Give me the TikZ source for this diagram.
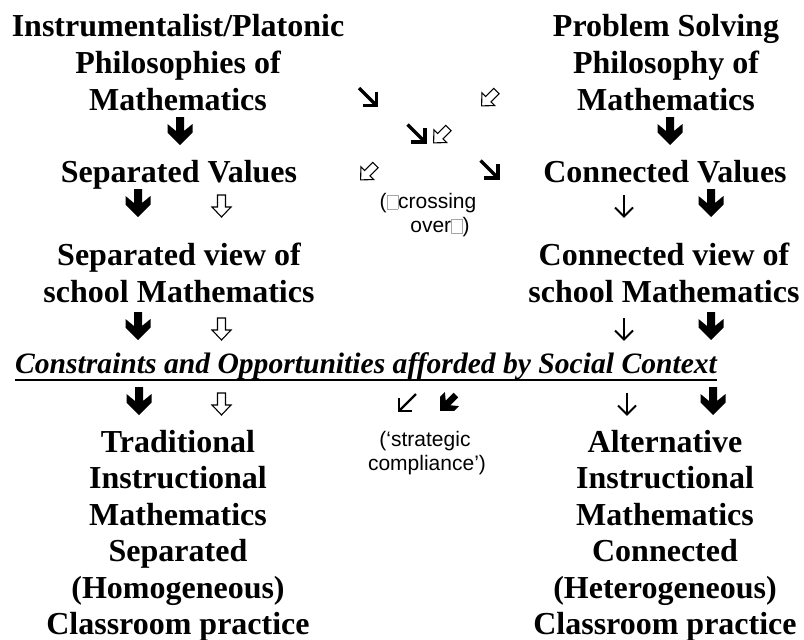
\documentclass[tikz,border=0pt]{standalone}
\usepackage{fontspec}
\setmainfont{Liberation Serif}
\newfontfamily\arialf{Liberation Sans}
\newcommand\missbox{\textcolor{gray!70}{\fboxsep=0pt\fboxrule=0.45pt\fbox{\rule{0pt}{0.62em}\hspace{0.5em}}}}
\tikzset{
  big/.style={font=\fontsize{32}{37}\selectfont\bfseries, inner sep=0pt, anchor=base},
  small/.style={font=\arialf\fontsize{21}{24}\selectfont, inner sep=0pt, anchor=base},
  soliddown/.pic={\fill (-4,14) -- (4,14) -- (4,0) -- (12.5,7) -- (12.5,-1.5) -- (0,-14) -- (-12.5,-1.5) -- (-12.5,7) -- (-4,0) -- cycle;},
  hollowdown/.pic={\draw[line width=1.1pt, fill=white, line join=miter] (-4,11) -- (4,11) -- (4,-1) -- (9.5,-1) -- (0,-11) -- (-9.5,-1) -- (-4,-1) -- cycle;},
  thindown/.pic={\draw[line width=1.8pt] (0,11) -- (0,-10);
                 \draw[line width=1.8pt, line join=miter] (-9,-1.5) -- (0,-10.5) -- (9,-1.5);},
  diagsolid/.pic={\draw[line width=3.4pt] (-9.5,9.5) -- (7,-7);
                  \draw[line width=3.4pt, line join=miter] (8,6) -- (8,-8) -- (-6,-8);},
  thindiag/.pic={\draw[line width=2.4pt] (9,9) -- (-7,-7);
                 \draw[line width=2.4pt, line join=miter] (-8,5) -- (-8,-8) -- (5,-8);},
}
\begin{document}
\begin{tikzpicture}[x=1pt,y=1pt]
\useasboundingbox (0,0) rectangle (804,-640);
% top blocks
\node[big] (tl1) at (178,-36) {Instrumentalist/Platonic};
\node[big] (tl2) at (178,-73) {Philosophies of};
\node[big] (tl3) at (178,-110) {Mathematics};
\node[big] (tr1) at (666,-36) {Problem Solving};
\node[big] (tr2) at (666,-73) {Philosophy of};
\node[big] (tr3) at (666,-110) {Mathematics};
% values
\node[big] (vl) at (179,-182) {Separated Values};
\node[big] (vr) at (665,-182) {Connected Values};
% views
\node[big] (wl1) at (179,-265) {Separated view of};
\node[big] (wl2) at (179,-302) {school Mathematics};
\node[big] (wr1) at (664,-265) {Connected view of};
\node[big] (wr2) at (664,-302) {school Mathematics};
% constraints
\node[big, anchor=base west, font=\fontsize{29.6}{37}\selectfont\bfseries\itshape] (con) at (15,-373) {Constraints and Opportunities afforded by Social Context};
\draw[line width=2.4pt] ([yshift=-7pt]con.base west) -- ([yshift=-7pt]con.base east);
% bottom blocks
\node[big] (bl1) at (178,-452) {Traditional};
\node[big] (bl2) at (178,-488.5) {Instructional};
\node[big] (bl3) at (178,-525) {Mathematics};
\node[big] (bl4) at (178,-561.5) {Separated};
\node[big] (bl5) at (178,-598) {(Homogeneous)};
\node[big] (bl6) at (178,-634.5) {Classroom practice};
\node[big] (br1) at (665,-452) {Alternative};
\node[big] (br2) at (665,-488.5) {Instructional};
\node[big] (br3) at (665,-525) {Mathematics};
\node[big] (br4) at (665,-561.5) {Connected};
\node[big] (br5) at (665,-598) {(Heterogeneous)};
\node[big] (br6) at (665,-634.5) {Classroom practice};
% small texts
\node[small] (cr1) at (428,-208.5) {(\missbox crossing};
\node[small] (cr2) at (440,-232.5) {over\missbox)};
\node[small] (sc1) at (425,-446) {(‘strategic};
\node[small] (sc2) at (427,-470) {compliance’)};
% arrows row 1
\pic at (180,-131) {soliddown};
\pic at (670,-131) {soliddown};
% crossing arrows
\pic at (368.5,-97.5) {diagsolid};
\pic[rotate=-45, scale=0.95] at (489,-98.5) {hollowdown};
\pic at (417,-134) {diagsolid};
\pic[rotate=-45, scale=0.95] at (441,-135.5) {hollowdown};
\pic[rotate=-45, scale=0.95] at (368,-172.5) {hollowdown};
\pic at (490,-170) {diagsolid};
% row 2
\pic at (138,-203) {soliddown};
\pic at (221.5,-206) {hollowdown};
\pic at (624,-206) {thindown};
\pic at (711,-203) {soliddown};
% row 3
\pic at (138,-326) {soliddown};
\pic at (221.5,-329) {hollowdown};
\pic at (624,-329) {thindown};
\pic at (711,-326) {soliddown};
% row 4
\pic at (139,-401) {soliddown};
\pic at (221.5,-404) {hollowdown};
\pic at (407,-403) {thindiag};
\pic[rotate=-45, scale=0.8] at (448,-403) {soliddown};
\pic at (627,-404) {thindown};
\pic at (713,-401) {soliddown};
\end{tikzpicture}
\end{document}
